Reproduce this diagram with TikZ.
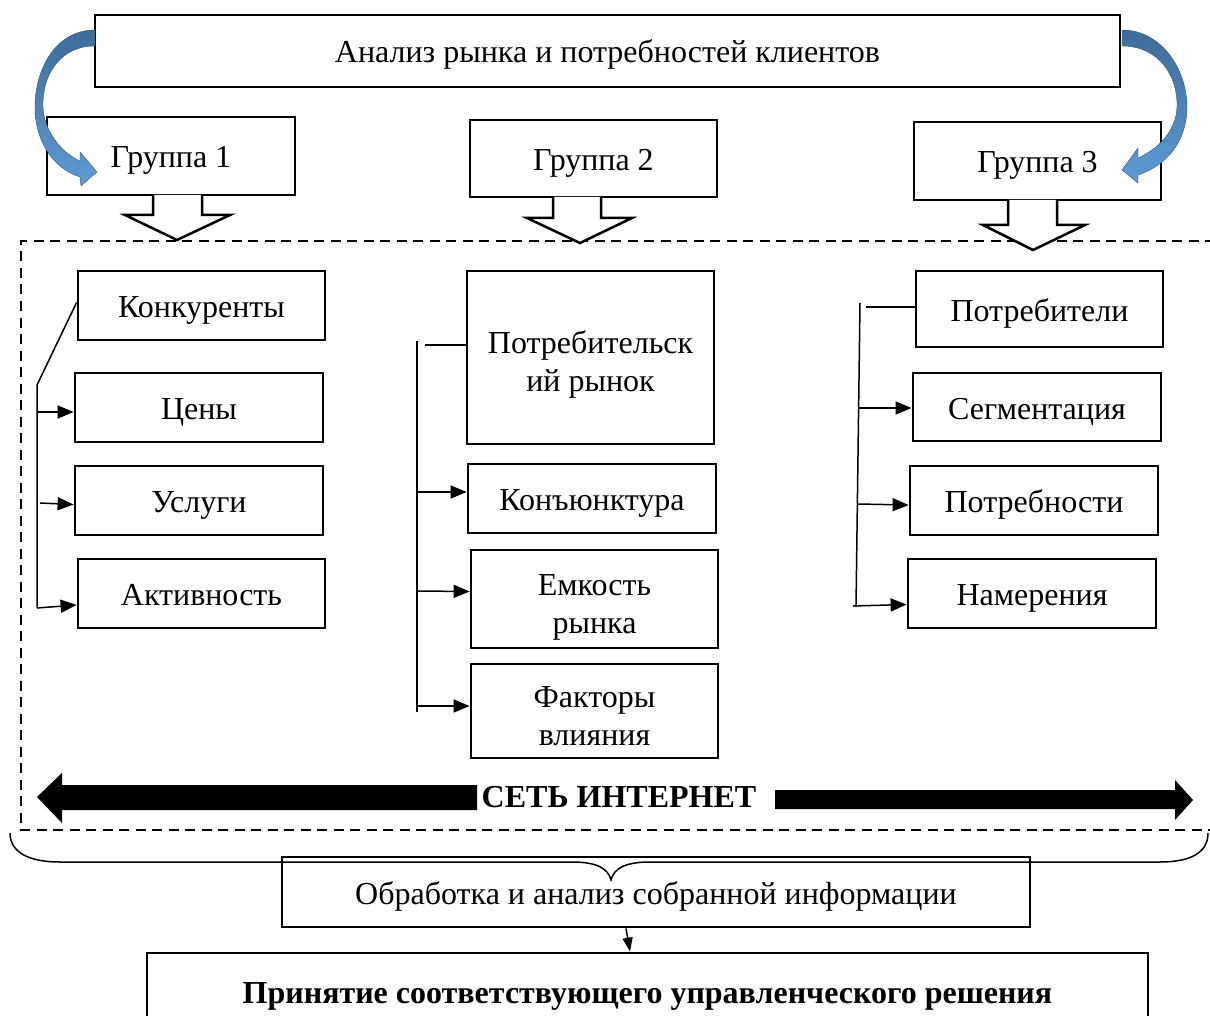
\documentclass[tikz,border=0pt]{standalone}
\usepackage{fontspec}
\setmainfont{Liberation Serif}
\usetikzlibrary{arrows.meta}
\definecolor{turndark}{RGB}{62,108,152}
\definecolor{turnlight}{RGB}{93,155,213}
\newcommand{\upstrut}{\rule{0pt}{37pt}}
\begin{document}
\begin{tikzpicture}
            [x=1pt, y=1pt,
             box/.style={draw=black, line width=2.8pt, fill=white, align=center, inner sep=0pt, font=\fontsize{32}{38}\selectfont,
                         execute at begin node={\rule{0pt}{31pt}}, execute at end node={\rule[-7pt]{0pt}{7pt}}},
             link/.style={line width=1.5pt, -{Triangle[length=16pt,width=13pt]}},
             branch/.style={line width=1.5pt},
             hollow/.style={draw=black, fill=white, line width=2.5pt, line join=miter},
             turn/.style={top color=turndark, bottom color=turnlight, draw=turndark!80!black, line width=0.4pt}]
                \useasboundingbox (0,0) rectangle (1210,-1016);
                % dashed frame of the internet area
                \draw [line width=2.8pt, dash pattern=on 10pt off 6.5pt] (1215,-241) -- (21,-241) -- (21,-830) -- (1215,-830);
                \node (top) [box, minimum width=1025pt, minimum height=72pt] at (607.5, -51) {Анализ рынка и потребностей клиентов};
                \node (g1) [box, minimum width=248pt, minimum height=78pt] at (171, -156) {Группа 1};
                \node (g2) [box, minimum width=247pt, minimum height=77pt] at (593.5, -158.5) {Группа 2};
                \node (g3) [box, minimum width=247pt, minimum height=78pt] at (1037.5, -161) {Группа 3};
                % curved blue arrows
                \shade [turn] (95,-30) .. controls (55,-30) and (35,-70) .. (35,-107) .. controls (35,-140) and (52,-168) .. (80,-177) -- (81,-186) -- (97,-172) -- (80,-152) -- (80,-161) .. controls (60,-152) and (44,-130) .. (43,-107) .. controls (42,-75) and (60,-46) .. (95,-46) -- cycle;
                \shade [turn] (1122,-30) .. controls (1162,-30) and (1187,-70) .. (1187,-107) .. controls (1187,-140) and (1168,-165) .. (1138,-175) -- (1138,-183) -- (1122,-170) -- (1138,-148) -- (1138,-158) .. controls (1160,-148) and (1176,-130) .. (1177,-107) .. controls (1178,-75) and (1158,-46) .. (1122,-46) -- cycle;
                % hollow arrows under the groups
                \draw [hollow] (153,-195) -- (153,-215) -- (125,-215) -- (177,-240) -- (230,-215) -- (202,-215) -- (202,-195);
                \draw [hollow] (553,-197) -- (553,-218) -- (527,-218) -- (580,-243) -- (632,-218) -- (601,-218) -- (601,-197);
                \draw [hollow] (1008,-200) -- (1008,-225) -- (983,-225) -- (1033,-250) -- (1085,-225) -- (1057,-225) -- (1057,-200);
                % group 1
                \node (konk) [box, minimum width=247pt, minimum height=69pt] at (201.5, -305.5) {Конкуренты};
                \node (ceny) [box, minimum width=248pt, minimum height=69pt] at (199, -407.5) {Цены};
                \node (usl) [box, minimum width=248pt, minimum height=69pt] at (199, -500.5) {Услуги};
                \node (akt) [box, minimum width=247pt, minimum height=69pt] at (201.5, -593.5) {Активность};
                \coordinate (b1) at (37, -385);
                \coordinate (e1) at (37, -608);
                \draw [branch] ([yshift=3pt]konk.west) -- (b1) -- (e1);
                \draw [link] (37, -412) to ([yshift=-4.5pt]ceny.west);
                \draw [link] (40, -503) to ([yshift=-4pt]usl.west);
                \draw [link] (e1) to ([yshift=-11.5pt]akt.west);
                % group 2
                \node (rynok) [box, minimum width=247pt, minimum height=173pt] at (590.5, -357.5) {\upstrut Потребительск\\ий рынок};
                \node (konj) [box, minimum width=248pt, minimum height=69pt] at (592, -498.5) {Конъюнктура};
                \node (emk) [box, minimum width=247pt, minimum height=98pt] at (594.5, -599) {\upstrut Емкость\\рынка};
                \node (fakt) [box, minimum width=247pt, minimum height=94pt] at (594.5, -711) {\upstrut Факторы\\влияния};
                \coordinate (b2) at (417, -341);
                \coordinate (e2) at (417, -712);
                \draw [branch] (425, -345) -- ([yshift=12.5pt]rynok.west);
                \draw [branch] (b2) -- (e2);
                \draw [link] (417, -492) to ([yshift=6.5pt]konj.west);
                \draw [link] (417, -591) to ([yshift=7.5pt]emk.west);
                \draw [link] (417, -706) to ([yshift=5pt]fakt.west);
                % group 3
                \node (potrebit) [box, minimum width=247pt, minimum height=76pt] at (1039.5, -309) {Потребители};
                \node (segm) [box, minimum width=248pt, minimum height=68pt] at (1037, -407) {Сегментация};
                \node (potrebn) [box, minimum width=248pt, minimum height=69pt] at (1034, -500.5) {Потребности};
                \node (namer) [box, minimum width=248pt, minimum height=69pt] at (1032, -593.5) {Намерения};
                \coordinate (b3) at (860, -303);
                \coordinate (e3) at (856, -607);
                \draw [branch] (866, -307) -- ([yshift=2pt]potrebit.west);
                \draw [branch] (b3) -- (e3);
                \draw [link] (859, -408) to ([yshift=-1pt]segm.west);
                \draw [link] (858, -504) to ([yshift=-4.5pt]potrebn.west);
                \draw [link] (853, -606) to ([yshift=-11pt]namer.west);
                % internet arrow
                \node (net) [inner sep=0pt, font=\fontsize{32}{38}\selectfont\bfseries] at (619, -797) {СЕТЬ ИНТЕРНЕТ};
                \fill (477,-785) -- (62,-785) -- (62,-773) -- (37,-797) -- (62,-823) -- (62,-810) -- (477,-810) -- cycle;
                \fill (775,-790) -- (1175,-790) -- (1175,-780) -- (1193,-800) -- (1175,-820) -- (1175,-809) -- (775,-809) -- cycle;
                % brace over the processing box
                \node (obr) [box, minimum width=748pt, minimum height=70pt] at (656, -892) {Обработка и анализ собранной информации};
                \draw [line width=1.5pt] (10,-833) .. controls (10,-850) and (25,-862) .. (60,-862) -- (572,-862) .. controls (596,-862) and (608,-868) .. (611,-880) .. controls (614,-868) and (626,-862) .. (650,-862) -- (1160,-862) .. controls (1195,-862) and (1208,-850) .. (1208,-833);
                \node (prin) [box, minimum width=1001pt, minimum height=76pt, font=\fontsize{32}{38}\selectfont\bfseries] at (647.5, -991) {Принятие соответствующего управленческого решения};
                \draw [line width=1.5pt, -{Triangle[length=14pt,width=10pt]}] ([xshift=-30pt]obr.south) to ([xshift=-17.5pt]prin.north);
\end{tikzpicture}
\end{document}
